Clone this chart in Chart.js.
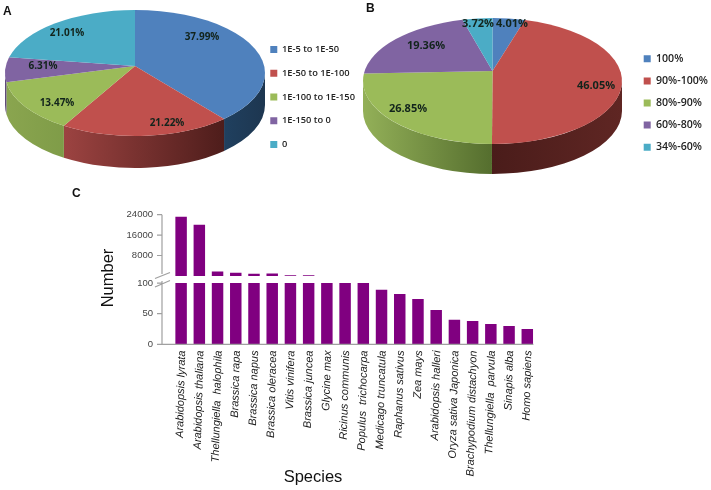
<!DOCTYPE html>
<html lang="en">
<head>
    <meta charset="UTF-8">
    <title>Species hits</title>
    <script src="https://cdn.jsdelivr.net/npm/chart.js"></script>
    <style>
        body { margin: 0; background: white; }
        #page { position: relative; width: 711px; height: 490px; overflow: hidden; }
        canvas { position: absolute; }
        #pieA { left: 0; top: 0; }
        #pieB { left: 360px; top: 0; }
        #bars { left: 0; top: 190px; }
        .panel { position: absolute; font: bold 12px "Liberation Sans", sans-serif; color: #111; }
    </style>
</head>
<body>
<div id="page">
    <canvas id="pieA" width="365" height="194"></canvas>
    <canvas id="pieB" width="358" height="206"></canvas>
    <canvas id="bars" width="711" height="300"></canvas>
    <div class="panel" style="left:3px;top:4px">A</div>
    <div class="panel" style="left:366px;top:1px">B</div>
    <div class="panel" style="left:72px;top:186px">C</div>
</div>

<script>
    // panel A
    const evalueLabels = ["1E-5 to 1E-50", "1E-50 to 1E-100", "1E-100 to 1E-150", "1E-150 to 0", "0"];
    const evalueShares = [37.99, 21.22, 13.47, 6.31, 21.01];

    // panel B
    const identityLabels = ["100%", "90%-100%", "80%-90%", "60%-80%", "34%-60%"];
    const identityShares = [4.01, 46.05, 26.85, 19.36, 3.72];

    // panel C
    const species = ["Arabidopsis lyrata", "Arabidopsis thaliana", "Thellungiella  halophila", "Brassica rapa",
        "Brassica napus", "Brassica oleracea", "Vitis vinifera", "Brassica juncea", "Glycine max",
        "Ricinus communis", "Populus  trichocarpa", "Medicago truncatula", "Raphanus sativus", "Zea mays",
        "Arabidopsis halleri", "Oryza sativa Japonica", "Brachypodium distachyon", "Thellungiella  parvula",
        "Sinapis alba", "Homo sapiens"];
    const speciesCounts = [23200, 20100, 1750, 1250, 850, 950, 250, 230, 100, 100,
        100, 89, 82, 74, 56, 40, 38, 33, 30, 25];
    const lowTicks = [0, 50, 100];
    const highTicks = [8000, 16000, 24000];

    const sliceColors = ["#4f81bd", "#c0504d", "#9bbb59", "#8064a2", "#4bacc6"];

    // draws the arcs chart.js laid out as a tilted disc with a rim
    const pie3d = {
        id: "pie3d",
        beforeDatasetsDraw(chart, args, opts) {
            const ctx = chart.ctx;
            const arcs = chart.getDatasetMeta(0).data;
            const { cx, cy, rx, ry, apexY, depth, sides } = opts;

            arcs.forEach((arc, i) => {
                let from = Math.max(arc.startAngle, 0);
                let to = Math.min(arc.endAngle, Math.PI);
                if (to <= from) return;
                // sides[i] runs from the slice's right end to its left end
                let grad = ctx.createLinearGradient(cx + rx * Math.cos(from), 0, cx + rx * Math.cos(to), 0);
                grad.addColorStop(0, sides[i][0]);
                grad.addColorStop(1, sides[i][1]);
                ctx.beginPath();
                ctx.ellipse(cx, cy, rx, ry, 0, from, to);
                ctx.ellipse(cx, cy + depth, rx, ry, 0, to, from, true);
                ctx.closePath();
                ctx.fillStyle = grad;
                ctx.fill();
            });

            arcs.forEach((arc, i) => {
                ctx.beginPath();
                ctx.moveTo(cx, apexY);
                ctx.ellipse(cx, cy, rx, ry, 0, arc.startAngle, arc.endAngle);
                ctx.closePath();
                ctx.fillStyle = sliceColors[i];
                ctx.fill();
            });

            ctx.font = opts.labelFont;
            ctx.fillStyle = "#12241c";
            ctx.textAlign = "center";
            ctx.textBaseline = "middle";
            chart.data.datasets[0].data.forEach((v, i) => {
                ctx.fillText(v.toFixed(2) + "%", opts.labelAt[i][0], opts.labelAt[i][1]);
            });
            return false;
        }
    };

    function makePie(id, labels, shares, legendFont, legendGap, geometry) {
        new Chart(document.getElementById(id), {
            type: "pie",
            data: { labels: labels, datasets: [{ data: shares, backgroundColor: sliceColors, borderWidth: 0 }] },
            options: {
                responsive: false,
                animation: false,
                plugins: {
                    tooltip: { enabled: false },
                    pie3d: geometry,
                    legend: {
                        position: "right",
                        labels: { boxWidth: 7, boxHeight: 7, padding: legendGap, color: "#222", font: legendFont }
                    }
                }
            },
            plugins: [pie3d]
        });
    }

    makePie("pieA", evalueLabels, evalueShares,
        { family: "Open Sans", size: 9.3, weight: "600" }, 14.5, {
            cx: 135, cy: 73, rx: 130, ry: 63, apexY: 66, depth: 32,
            labelFont: "bold 10px 'Open Sans'",
            labelAt: [[202, 37], [167, 123], [57, 103], [43, 66], [67, 33]],
            sides: [["#1d3650", "#20405f"], ["#4e1d1b", "#9c4341"], ["#7f9c48", "#8aa54f"],
                ["#5f4a7a", "#5f4a7a"], ["#38818f", "#38818f"]]
        });

    makePie("pieB", identityLabels, identityShares,
        { family: "Open Sans", size: 10.6, weight: "600" }, 11.5, {
            cx: 132.5, cy: 81, rx: 129.5, ry: 63, apexY: 71, depth: 30,
            labelFont: "bold 11px 'Open Sans'",
            labelAt: [[152, 24], [236, 86], [48, 109], [66, 46], [118, 24]],
            sides: [["#2f4d70", "#2f4d70"], ["#5f2623", "#4a1c1a"], ["#556e2e", "#93b058"],
                ["#5f4a7a", "#5f4a7a"], ["#38818f", "#38818f"]]
        });

    // the broken axis lines, ticks and the two big titles
    const axisBreak = {
        id: "axisBreak",
        afterDraw(chart) {
            const ctx = chart.ctx;
            const hi = chart.scales.yHigh, lo = chart.scales.yLow, xs = chart.scales.x;
            const axisX = 162, zero = lo.getPixelForValue(0), top100 = lo.getPixelForValue(100);
            ctx.save();
            ctx.strokeStyle = "#a0a0a0";
            ctx.lineWidth = 1.2;
            ctx.beginPath();
            ctx.moveTo(axisX, hi.getPixelForValue(24000));
            ctx.lineTo(axisX, hi.getPixelForValue(0) - 2);
            ctx.moveTo(axisX, top100 - 2);
            ctx.lineTo(axisX, zero);
            ctx.lineTo(xs.right - 3, zero);
            highTicks.forEach(t => {
                ctx.moveTo(axisX - 5, hi.getPixelForValue(t));
                ctx.lineTo(axisX, hi.getPixelForValue(t));
            });
            lowTicks.forEach(t => {
                ctx.moveTo(axisX - 5, lo.getPixelForValue(t));
                ctx.lineTo(axisX, lo.getPixelForValue(t));
            });
            // slashes
            ctx.moveTo(axisX - 7, top100 - 4.5);
            ctx.lineTo(axisX + 8, top100 - 10.5);
            ctx.moveTo(axisX - 7, top100 + 4);
            ctx.lineTo(axisX + 8, top100 - 2.5);
            ctx.stroke();

            ctx.fillStyle = "#111";
            ctx.font = "16.5px 'Liberation Sans'";
            ctx.textAlign = "center";
            ctx.textBaseline = "middle";
            ctx.fillText("Species", 313, 287);
            ctx.translate(108, 88);
            ctx.rotate(-Math.PI / 2);
            ctx.fillText("Number", 0, 0);
            ctx.restore();
        }
    };

    const yTickFont = { family: "Liberation Sans", size: 9.5 };
    const fixedTicks = list => scale => { scale.ticks = list.map(v => ({ value: v })); };
    const plainNumber = v => String(v);

    new Chart(document.getElementById("bars"), {
        type: "bar",
        data: {
            labels: species,
            datasets: [
                { yAxisID: "yLow", data: speciesCounts.map(v => Math.min(v, 100)), backgroundColor: "#800080" },
                { yAxisID: "yHigh", data: speciesCounts.map(v => v > 100 ? v : null), backgroundColor: "#800080" }
            ]
        },
        options: {
            responsive: false,
            animation: false,
            layout: { padding: { top: 24, right: 174.6, left: 0, bottom: 0 } },
            datasets: { bar: { grouped: false, barPercentage: 0.63, categoryPercentage: 1 } },
            plugins: { legend: { display: false }, tooltip: { enabled: false } },
            scales: {
                x: {
                    grid: { display: false, drawTicks: false },
                    border: { display: false },
                    afterFit: scale => { scale.height = 145.7; },
                    ticks: {
                        autoSkip: false, minRotation: 88.5, maxRotation: 88.5, padding: 6, labelOffset: 1, color: "#1a1a1a",
                        font: { family: "Liberation Sans", size: 11, style: "italic" }
                    }
                },
                yLow: {
                    position: "left", stack: "counts", stackWeight: 61.6, min: 0, max: 100,
                    grid: { display: false, drawTicks: false },
                    border: { display: false },
                    afterBuildTicks: fixedTicks(lowTicks),
                    afterFit: scale => { scale.width = 172; },
                    ticks: { padding: 19, color: "#444", font: yTickFont, callback: plainNumber }
                },
                yHigh: {
                    position: "left", stack: "counts", stackWeight: 68.7, min: -2800, max: 24000,
                    grid: { display: false, drawTicks: false },
                    border: { display: false },
                    afterBuildTicks: fixedTicks(highTicks),
                    afterFit: scale => { scale.width = 172; },
                    ticks: { padding: 19, color: "#444", font: yTickFont, callback: plainNumber }
                }
            }
        },
        plugins: [axisBreak]
    });
</script>
</body>
</html>
